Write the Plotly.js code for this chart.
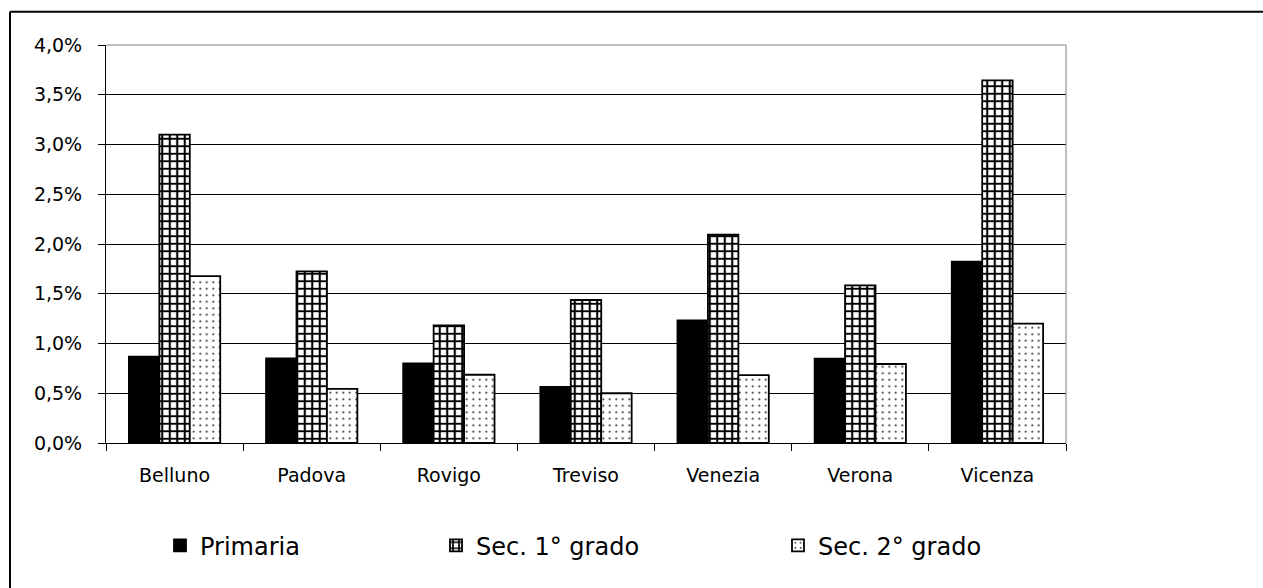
<!DOCTYPE html>
<html>
<head>
<meta charset="utf-8">
<script src="https://cdn.plot.ly/plotly-3.0.1.min.js"></script>
<style>html,body{margin:0;padding:0;background:#fff;}</style>
</head>
<body>
<div id="chart" style="width:1263px;height:588px;"></div>
<script>
var categories = ["Belluno", "Padova", "Rovigo", "Treviso", "Venezia", "Verona", "Vicenza"];
var primaria = [0.867, 0.85, 0.80, 0.563, 1.232, 0.847, 1.822];
var sec1 = [3.10, 1.725, 1.182, 1.437, 2.093, 1.584, 3.644];
var sec2 = [1.678, 0.543, 0.686, 0.50, 0.683, 0.794, 1.199];
var seriesNames = ["Primaria", "Sec. 1° grado", "Sec. 2° grado"];

var FONT = "DejaVu Sans, Arial, sans-serif";

var traces = [
  {
    type: "bar", x: categories, y: primaria, name: seriesNames[0], legend: "legend",
    marker: {color: "#000000", line: {color: "#000000", width: 1.8}}
  },
  {
    type: "bar", x: categories, y: sec1, name: seriesNames[1], legend: "legend2",
    marker: {color: "#ffffff", line: {color: "#000000", width: 1.8},
      pattern: {shape: "+", size: 7.5, solidity: 0.48, fgcolor: "#000000", bgcolor: "#ffffff", fillmode: "replace"}}
  },
  {
    type: "bar", x: categories, y: sec2, name: seriesNames[2], legend: "legend3",
    marker: {color: "#ffffff", line: {color: "#000000", width: 1.8},
      pattern: {shape: ".", size: 6.5, solidity: 0.075, fgcolor: "#111111", bgcolor: "#ffffff", fillmode: "replace"}}
  }
];

var legendFont = {family: FONT, size: 24, color: "#000"};
function leg(x) {
  return {x: x, y: -0.258, xanchor: "left", yanchor: "middle", orientation: "h",
          font: legendFont, bgcolor: "rgba(0,0,0,0)", borderwidth: 0};
}

var layout = {
  width: 1263, height: 588,
  margin: {l: 106, r: 197, t: 45, b: 145, pad: 0},
  paper_bgcolor: "#ffffff", plot_bgcolor: "#ffffff",
  separators: ",.",
  barmode: "group", bargap: 0.334, bargroupgap: 0,
  showlegend: true,
  legend: leg(0.05625),
  legend2: leg(0.34375),
  legend3: leg(0.70),
  xaxis: {
    type: "category",
    showline: true, linecolor: "#000", linewidth: 1,
    ticks: "outside", tickson: "boundaries", ticklen: 7, tickcolor: "#000", tickwidth: 1,
    showgrid: false,
    tickfont: {family: FONT, size: 19, color: "#000"},
    ticklabelstandoff: 15
  },
  yaxis: {
    range: [0, 4], dtick: 0.5, tick0: 0,
    tickformat: ".1f", ticksuffix: "%",
    showline: true, linecolor: "#000", linewidth: 1,
    ticks: "outside", ticklen: 7, tickcolor: "#000", tickwidth: 1,
    showgrid: true, gridcolor: "#000", gridwidth: 1,
    zeroline: false,
    tickfont: {family: FONT, size: 19, color: "#000"},
    ticklabelstandoff: 12
  },
  shapes: [
    {type: "line", xref: "paper", yref: "paper", x0: 0, x1: 1, y0: 1, y1: 1, line: {color: "#808080", width: 1}},
    {type: "line", xref: "paper", yref: "paper", x0: 1, x1: 1, y0: 0, y1: 1, line: {color: "#808080", width: 1}},
    {type: "line", xref: "paper", yref: "paper", x0: -0.1, x1: -0.1, y0: -0.45, y1: 1.0837, line: {color: "#000", width: 2}},
    {type: "line", xref: "paper", yref: "paper", x0: -0.1, x1: 1.21, y0: 1.0837, y1: 1.0837, line: {color: "#000", width: 2}}
  ]
};

Plotly.newPlot("chart", traces, layout, {displayModeBar: false, staticPlot: true});
</script>
</body>
</html>
